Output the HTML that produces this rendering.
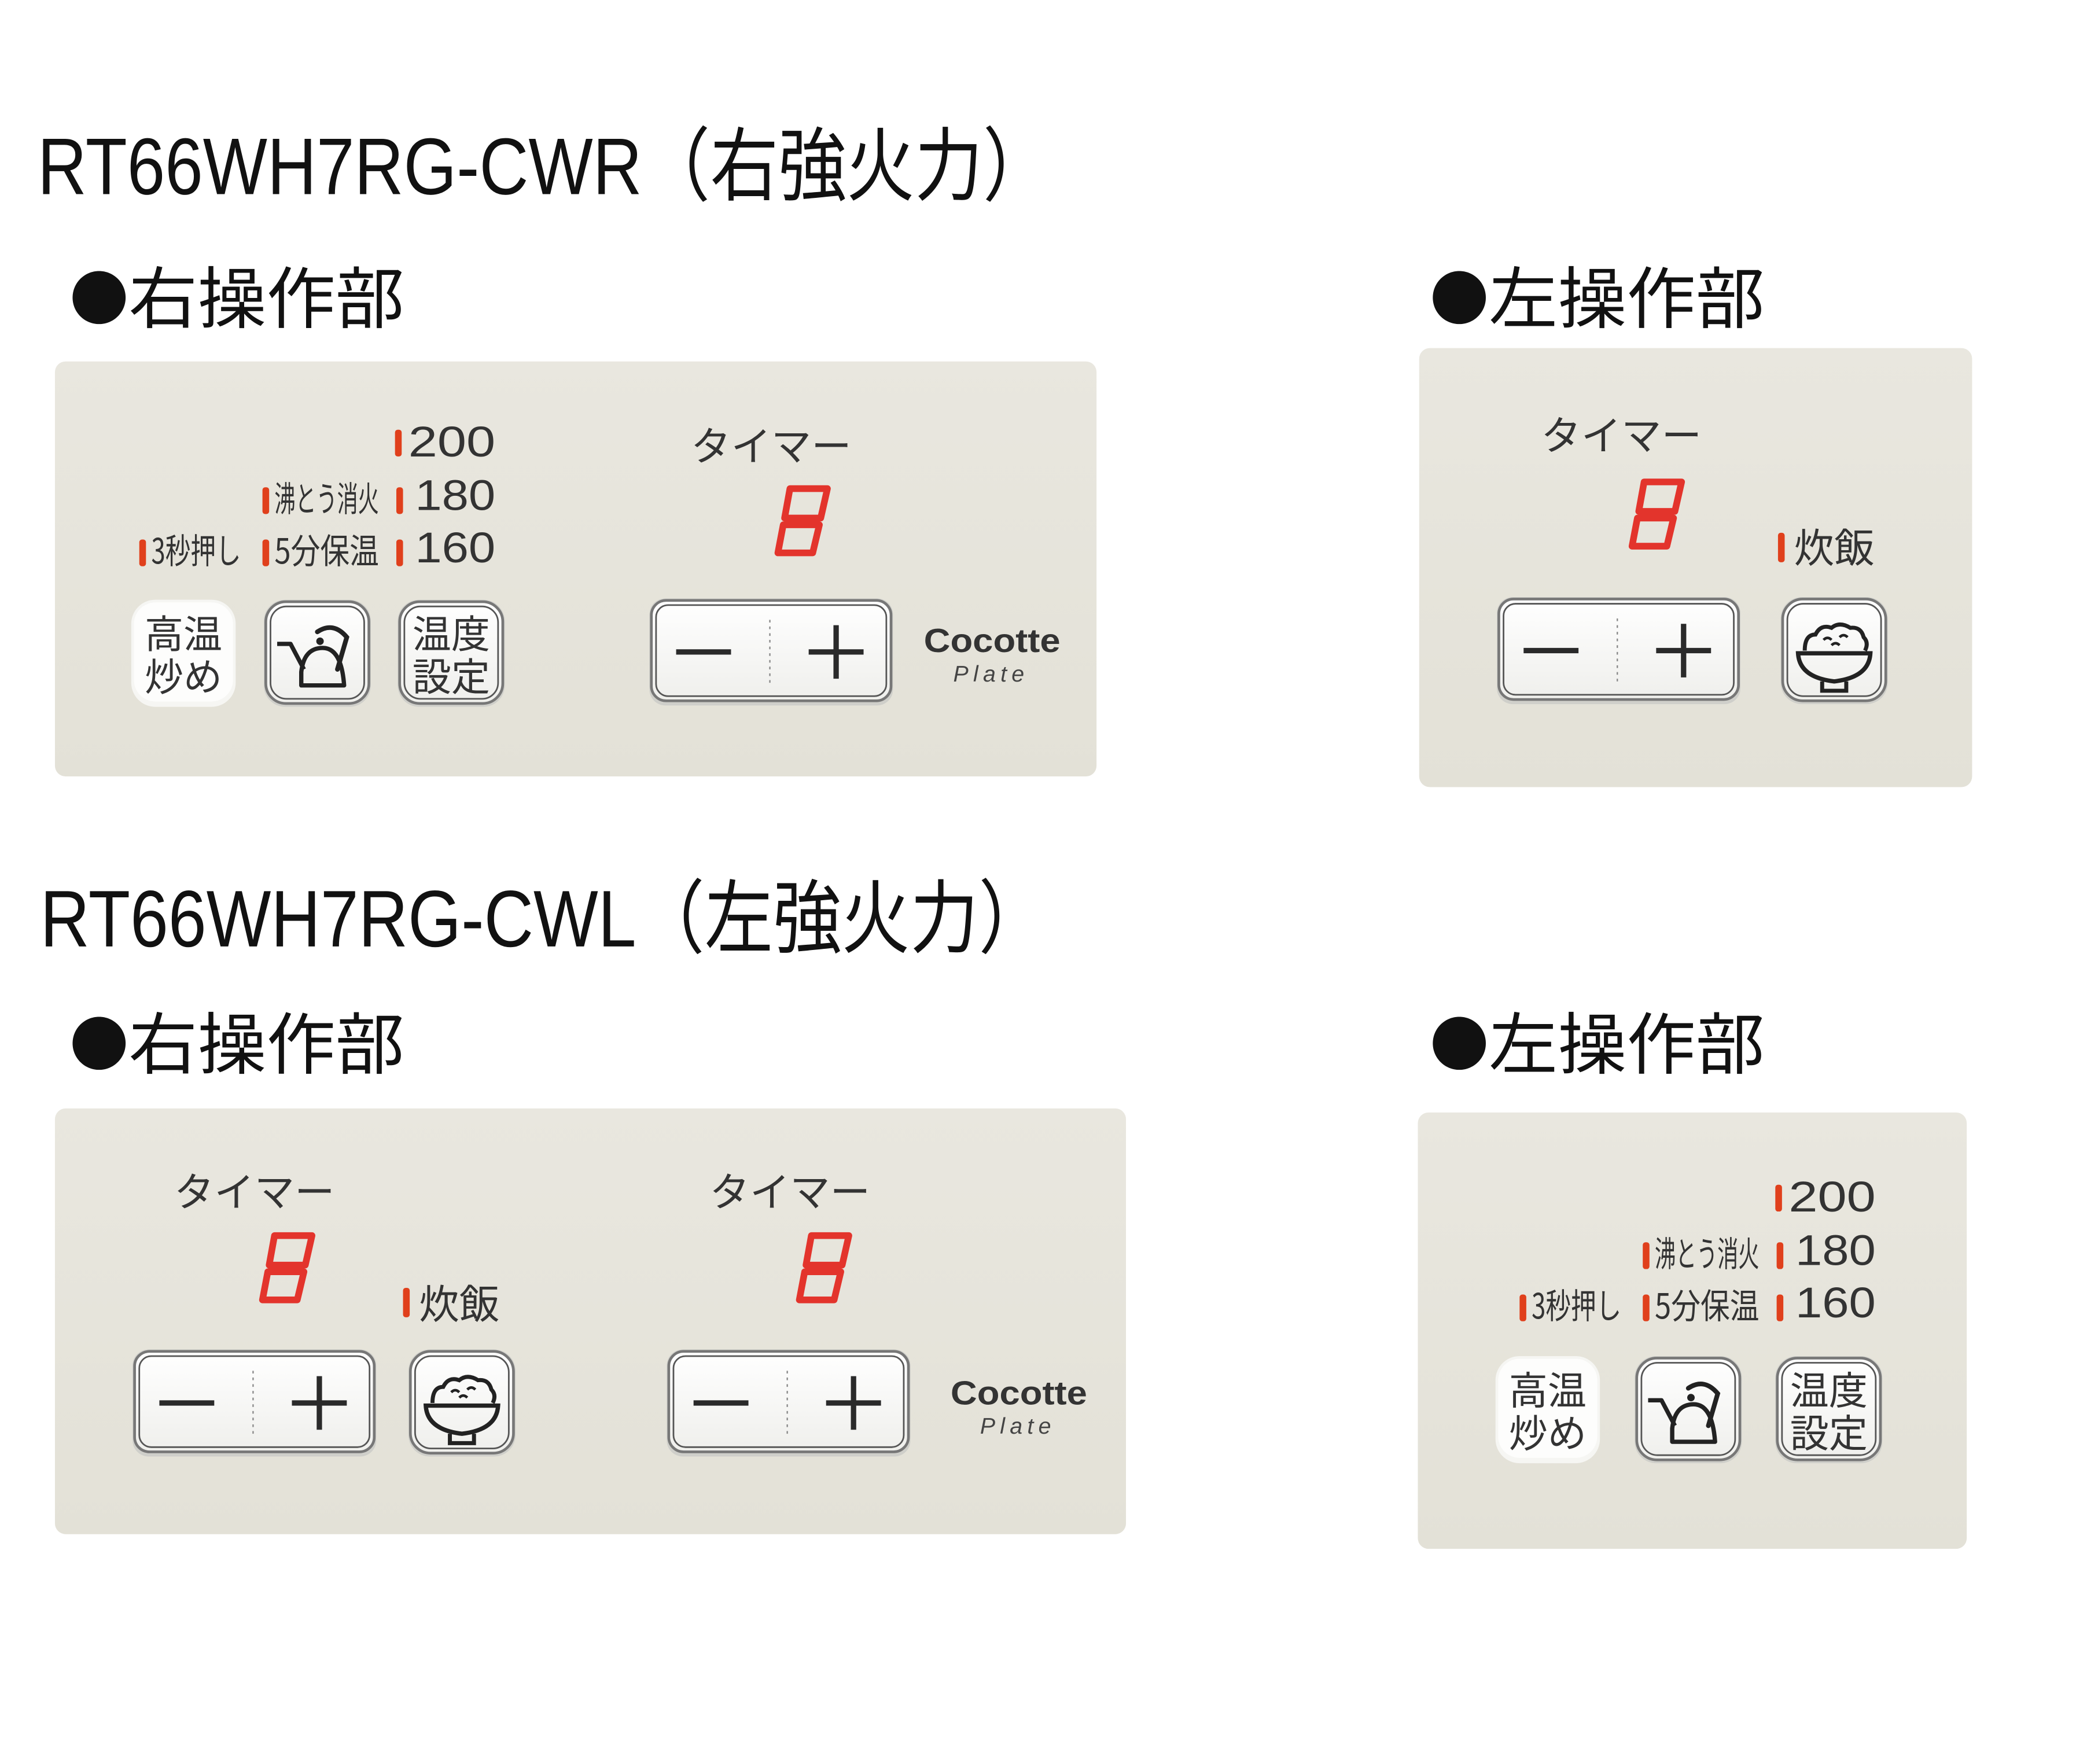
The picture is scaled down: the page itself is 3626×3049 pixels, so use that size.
<!DOCTYPE html>
<html><head><meta charset="utf-8">
<style>
html,body{margin:0;padding:0;background:#fff;}
svg{display:block;}
.t{font-family:"Liberation Sans","Noto Sans CJK JP",sans-serif;fill:#111;}
.h{font-family:"Noto Sans CJK JP","Liberation Sans",sans-serif;fill:#111;}
.j{font-family:"Noto Sans CJK JP","Liberation Sans",sans-serif;fill:#333;}
.n{font-family:"Liberation Sans","Noto Sans CJK JP",sans-serif;fill:#333;}
</style></head><body>
<svg width="3626" height="3049" viewBox="0 0 1567 1317.7" xmlns="http://www.w3.org/2000/svg">
<defs>
<linearGradient id="pg" x1="0" y1="0" x2="0" y2="1"><stop offset="0" stop-color="#e9e7df"/><stop offset="1" stop-color="#e3e1d7"/></linearGradient>
<linearGradient id="bg" x1="0" y1="0" x2="0" y2="1"><stop offset="0" stop-color="#ffffff"/><stop offset="1" stop-color="#efefec"/></linearGradient>
<g id="btnframe">
  <rect x="0" y="0" width="80" height="80" rx="16" fill="#cfcfca"/>
  <rect x="1.5" y="1.5" width="77" height="76" rx="15" fill="url(#bg)" stroke="#777" stroke-width="2"/>
  <rect x="5" y="5" width="70" height="69" rx="12" fill="none" stroke="#555" stroke-width="1.2"/>
</g>
<g id="kettle">
  <use href="#btnframe"/>
  <path d="M40 24 Q52 16 62 28 L55 52" fill="none" stroke="#222" stroke-width="3.5" stroke-linecap="round"/>
  <circle cx="42" cy="31" r="2.8" fill="#222"/>
  <path d="M10 33 L20 33 L30 52 M28 64 L28 54 Q30 36 44 36 Q58 36 60 64 Z" fill="none" stroke="#222" stroke-width="3.2" stroke-linejoin="round"/>
</g>
<g id="rice">
  <use href="#btnframe"/>
  <path d="M18 40 Q18 28 26 28 Q30 20 38 23 Q44 18 52 23 Q60 22 62 30 Q66 34 63 40" fill="none" stroke="#222" stroke-width="3"/>
  <path d="M32 32 q3 -3 6 0 M44 30 q3 -3 6 0 M38 36 q3 -3 6 0" fill="none" stroke="#222" stroke-width="2"/>
  <path d="M13 42 L67 42 Q66 60 40 63 Q14 60 13 42 Z" fill="none" stroke="#222" stroke-width="3.2"/>
  <path d="M31 63 L31 70 L49 70 L49 63" fill="none" stroke="#222" stroke-width="3"/>
</g>
<g id="kotei">
  <rect x="0" y="0" width="78" height="80" rx="18" fill="#f6f6f3"/>
  <rect x="2" y="2" width="74" height="74" rx="16" fill="#fdfdfc"/>
  <text class="j" x="39" y="36" font-size="29" text-anchor="middle" fill="#222">高温</text>
  <text class="j" x="39" y="68" font-size="29" text-anchor="middle" fill="#222">炒め</text>
</g>
<g id="ondo">
  <use href="#btnframe"/>
  <text class="j" x="40" y="36" font-size="29" text-anchor="middle" fill="#222">温度</text>
  <text class="j" x="40" y="68" font-size="29" text-anchor="middle" fill="#222">設定</text>
</g>
<g id="pm">
  <rect x="0" y="0" width="182" height="80" rx="12" fill="#cfcfca"/>
  <rect x="1.5" y="1.5" width="179" height="75" rx="11" fill="url(#bg)" stroke="#777" stroke-width="2"/>
  <rect x="5" y="5" width="172" height="68" rx="9" fill="none" stroke="#555" stroke-width="1.2"/>
  <line x1="20" y1="40" x2="61" y2="40" stroke="#2a2a2a" stroke-width="4"/>
  <line x1="119" y1="40" x2="160" y2="40" stroke="#2a2a2a" stroke-width="4"/>
  <line x1="139.5" y1="20" x2="139.5" y2="60" stroke="#2a2a2a" stroke-width="4"/>
  <line x1="90" y1="16" x2="90" y2="64" stroke="#888" stroke-width="1" stroke-dasharray="2,3"/>
</g>
<g id="eight">
  <path d="M10 3 L38 3 L33 25 L6 25 Z M5 30 L32 30 L27 51 L1 51 Z" fill="none" stroke="#e3342c" stroke-width="5" stroke-linejoin="round"/>
</g>
<g id="timerlbl"><text class="j" x="0" y="0" font-size="30" fill="#333">タイマー</text></g>
<g id="cocotte">
  <text x="0" y="0" font-family="Liberation Sans,sans-serif" font-weight="bold" font-size="25" fill="#333" textLength="102" lengthAdjust="spacingAndGlyphs">Cocotte</text>
  <text x="22" y="22" font-family="Liberation Sans,sans-serif" font-style="italic" font-size="17" fill="#444" letter-spacing="3" textLength="56">Plate</text>
</g>
<g id="temps">
  <rect x="191" y="-3" width="5" height="20" rx="2" fill="#e0401c"/>
  <text class="n" x="201" y="17" font-size="32" textLength="65" lengthAdjust="spacingAndGlyphs">200</text>
  <rect x="92" y="40" width="5" height="20" rx="2" fill="#e0401c"/>
  <text class="j" x="101" y="58" font-size="26" textLength="78" lengthAdjust="spacingAndGlyphs">沸とう消火</text>
  <rect x="192" y="40" width="5" height="20" rx="2" fill="#e0401c"/>
  <text class="n" x="206" y="57" font-size="32" textLength="60" lengthAdjust="spacingAndGlyphs">180</text>
  <rect x="0" y="79" width="5" height="20" rx="2" fill="#e0401c"/>
  <text class="j" x="9" y="97" font-size="26" textLength="67" lengthAdjust="spacingAndGlyphs">3秒押し</text>
  <rect x="92" y="79" width="5" height="20" rx="2" fill="#e0401c"/>
  <text class="j" x="101" y="97" font-size="26" textLength="78" lengthAdjust="spacingAndGlyphs">5分保温</text>
  <rect x="192" y="79" width="5" height="20" rx="2" fill="#e0401c"/>
  <text class="n" x="206" y="96" font-size="32" textLength="60" lengthAdjust="spacingAndGlyphs">160</text>
</g>
</defs>

<text class="t" x="28" y="145" font-size="60" textLength="757" lengthAdjust="spacingAndGlyphs">RT66WH7RG-CWR（右強火力）</text>
<text class="h" x="52" y="239" font-size="44">●</text>
<text class="h" x="96" y="241" font-size="50" textLength="206" lengthAdjust="spacingAndGlyphs">右操作部</text>
<text class="h" x="1068" y="239" font-size="44">●</text>
<text class="h" x="1112" y="241" font-size="50" textLength="206" lengthAdjust="spacingAndGlyphs">左操作部</text>
<text class="t" x="30" y="707" font-size="60" textLength="752" lengthAdjust="spacingAndGlyphs">RT66WH7RG-CWL（左強火力）</text>
<text class="h" x="52" y="796" font-size="44">●</text>
<text class="h" x="96" y="798" font-size="50" textLength="206" lengthAdjust="spacingAndGlyphs">右操作部</text>
<text class="h" x="1068" y="796" font-size="44">●</text>
<text class="h" x="1112" y="798" font-size="50" textLength="206" lengthAdjust="spacingAndGlyphs">左操作部</text>

<rect x="41" y="270" width="778" height="310" rx="8" fill="url(#pg)"/>
<use href="#temps" x="104" y="324"/>
<use href="#kotei" x="98" y="448"/>
<use href="#kettle" x="197" y="448"/>
<use href="#ondo" x="297" y="448"/>
<use href="#timerlbl" x="516" y="344"/>
<use href="#eight" x="580" y="362"/>
<use href="#pm" x="485" y="447"/>
<use href="#cocotte" x="690" y="487"/>

<rect x="1060" y="260" width="413" height="328" rx="8" fill="url(#pg)"/>
<use href="#timerlbl" x="1151" y="336"/>
<use href="#eight" x="1218" y="357"/>
<rect x="1328" y="398" width="5" height="22" rx="2" fill="#e0401c"/>
<text class="j" x="1340" y="420" font-size="30">炊飯</text>
<use href="#pm" x="1118" y="446"/>
<use href="#rice" x="1330" y="446"/>

<rect x="41" y="828" width="800" height="318" rx="8" fill="url(#pg)"/>
<use href="#timerlbl" x="130" y="901"/>
<use href="#eight" x="195" y="920"/>
<rect x="301" y="962" width="5" height="22" rx="2" fill="#e0401c"/>
<text class="j" x="313" y="985" font-size="30">炊飯</text>
<use href="#pm" x="99" y="1008"/>
<use href="#rice" x="305" y="1008"/>
<use href="#timerlbl" x="530" y="901"/>
<use href="#eight" x="596" y="920"/>
<use href="#pm" x="498" y="1008"/>
<use href="#cocotte" x="710" y="1049"/>

<rect x="1059" y="831" width="410" height="326" rx="8" fill="url(#pg)"/>
<use href="#temps" x="1135" y="888"/>
<use href="#kotei" x="1117" y="1013"/>
<use href="#kettle" x="1221" y="1013"/>
<use href="#ondo" x="1326" y="1013"/>
</svg>
</body></html>
